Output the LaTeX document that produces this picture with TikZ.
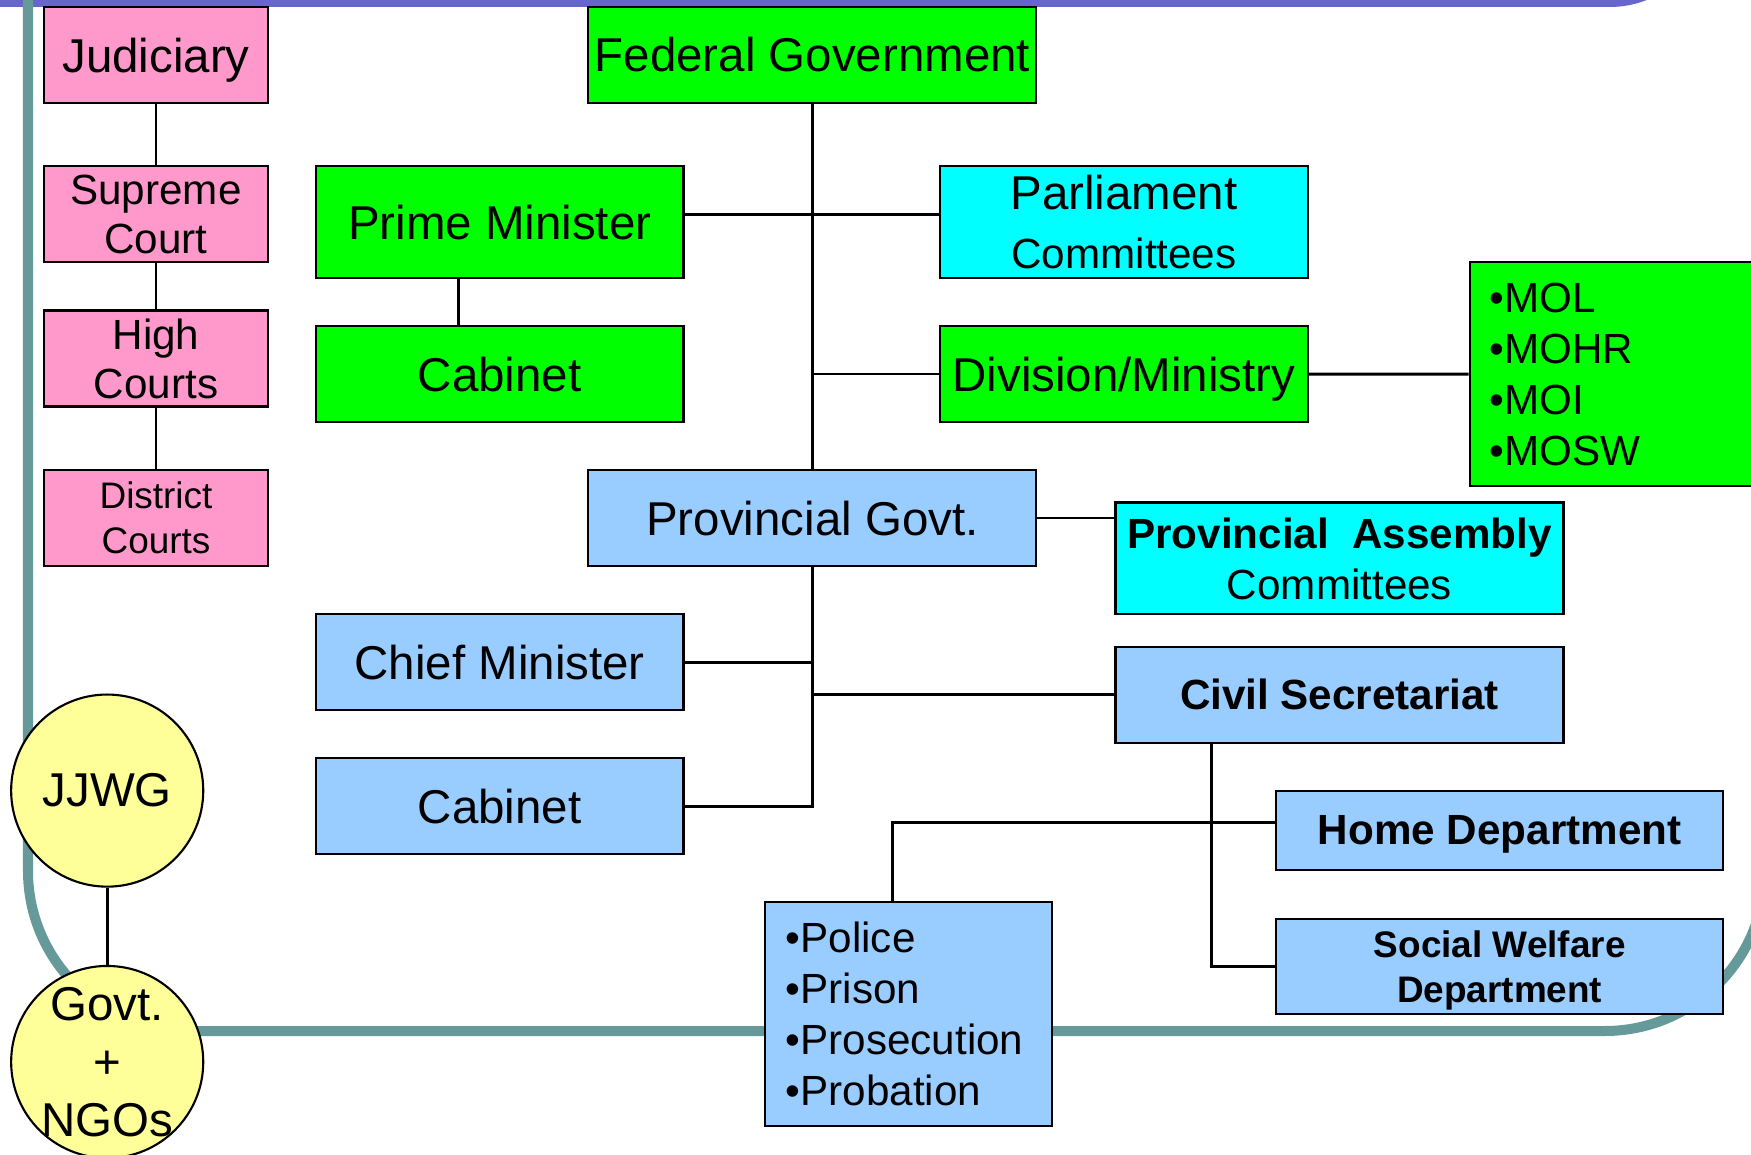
\documentclass[tikz,border=0pt]{standalone}
\usepackage{fontspec}
\setmainfont{Liberation Sans}
\usetikzlibrary{calc}
\definecolor{jpink}{RGB}{255,153,204}
\definecolor{fgreen}{RGB}{0,255,0}
\definecolor{pcyan}{RGB}{0,255,255}
\definecolor{pblue}{RGB}{153,204,255}
\definecolor{cyellow}{RGB}{255,255,153}
\definecolor{frameteal}{RGB}{102,153,153}
\definecolor{headblue}{RGB}{102,102,204}
\newcommand{\bigfont}{\fontsize{13.5}{16.5}\selectfont}
\newcommand{\midfont}{\fontsize{12}{14}\selectfont}
\newcommand{\smlfont}{\fontsize{10.5}{12.8}\selectfont}
\begin{document}
\begin{tikzpicture}[x=0.01cm,y=-0.01cm,
		orgbox/.style={draw=black,line width=0.6pt,inner sep=0pt,text depth=0pt,align=center,font=\bigfont},
		pinkbox/.style={orgbox,fill=jpink,minimum width=2.245cm,minimum height=0.96cm},
		wide/.style={minimum width=4.478cm,minimum height=0.96cm},
		narrow/.style={minimum width=3.674cm,minimum height=0.96cm},
		listbox/.style={draw=black,line width=0.6pt,inner ysep=0pt,align=left,font=\fontsize{12}{14.5}\selectfont,anchor=west},
		roundnode/.style={draw=black,line width=0.6pt,circle,fill=cyellow,minimum size=1.92cm,inner sep=-0.4cm,align=center,font=\bigfont},
		link/.style={line width=0.85pt}]
		\useasboundingbox (0,0) rectangle (1751,1155);
		\clip (0,0) rectangle (1751,1155);
		
		% slide frame
		\draw[headblue,line width=0.1cm,rounded corners=0.95cm] (-20,2) -- (1705,2) -- (1705,-200);
		\draw[frameteal,line width=0.1cm,rounded corners=1.6cm] (28,-50) -- (28,1031) -- (1765,1031) -- (1765,-50);
		
		% judiciary
		\node[pinkbox] (jud) at (156,55) {Judiciary};
		\node[pinkbox,font=\midfont] (sc) at (156,214.4) {Supreme\\Court};
		\node[pinkbox,font=\midfont] (hc) at (156,358.5) {High\\Courts};
		\node[pinkbox,font=\smlfont] (dc) at (156,518) {District\\Courts};
		
		% federal level
		\node[orgbox,wide,fill=fgreen] (fed) at (812.4,54.7) {Federal Government};
		\node[orgbox,narrow,minimum height=1.117cm,fill=fgreen] (pm) at (499.7,222.2) {Prime Minister};
		\node[orgbox,narrow,fill=fgreen] (cabf) at (499.7,374) {Cabinet};
		\node[orgbox,narrow,minimum height=1.117cm,fill=pcyan,font=\fontsize{13.5}{16.8}\selectfont] (parl) at (1124,222.2) {Parliament\\{\midfont Committees}};
		\node[orgbox,narrow,fill=fgreen] (div) at (1124,374) {Division/Ministry};
		\node[listbox,fill=fgreen,text width=2.52cm,inner xsep=0.2cm,minimum height=2.234cm] (mol) at (1468.5,374.1) {•MOL\\•MOHR\\•MOI\\•MOSW};
		
		% provincial level
		\node[orgbox,wide,fill=pblue] (prov) at (812.4,518) {Provincial Govt.};
		\node[orgbox,wide,minimum height=1.117cm,fill=pcyan,font=\fontsize{12}{14.6}\selectfont] (asm) at (1339.5,558.4) {\textbf{Provincial\ \ Assembly}\\Committees};
		\node[orgbox,narrow,fill=pblue] (cm) at (499.7,662.2) {Chief Minister};
		\node[orgbox,narrow,fill=pblue] (cabp) at (499.7,806.3) {Cabinet};
		\node[orgbox,wide,fill=pblue,font=\midfont\bfseries] (civ) at (1339.5,694.6) {Civil Secretariat};
		\node[orgbox,minimum width=4.467cm,minimum height=0.793cm,fill=pblue,font=\midfont\bfseries] (home) at (1499.7,830.3) {Home Department};
		\node[orgbox,minimum width=4.467cm,minimum height=0.95cm,fill=pblue,font=\smlfont\bfseries] (swd) at (1499.7,966.5) {Social Welfare\\Department};
		\node[listbox,fill=pblue,text width=2.45cm,inner xsep=0.21cm,minimum height=2.233cm] (pol) at (763.8,1014) {•Police\\•Prison\\•Prosecution\\•Probation};
		
		% working group
		\node[roundnode] (jjwg) at (107.2,790.6) {JJWG};
		\node[roundnode,font=\fontsize{13.5}{16.4}\selectfont] (ngo) at (107.2,1062) {Govt.\\+\\NGOs};
		
		% connectors
		\foreach \a/\b in {jud/sc, sc/hc, hc/dc, jjwg/ngo, fed/prov, div/mol}{
			\draw[link] (\a) -- (\b);
		}
		\draw[link] ([xshift=-0.41cm]pm.south) -- ([xshift=-0.41cm]cabf.north);
		\draw[link] ([yshift=0.08cm]pm.east) -- ([yshift=0.08cm]parl.west);
		\draw[link] (fed.south |- div.west) -- (div.west);
		\draw[link] (prov.east) -- (prov.east -| asm.west);
		\draw[link] (prov.south) |- (cabp.east);
		\draw[link] (cm.east) -- (cm.east -| prov.south);
		\draw[link] (civ.west -| prov.south) -- (civ.west);
		\coordinate (civdrop) at ([xshift=-1.279cm]civ.south);
		\draw[link] (civdrop) |- (swd.west);
		\draw[link] ([yshift=0.08cm]home.west) -| ([xshift=-0.163cm]pol.north);
\end{tikzpicture}
\end{document}
